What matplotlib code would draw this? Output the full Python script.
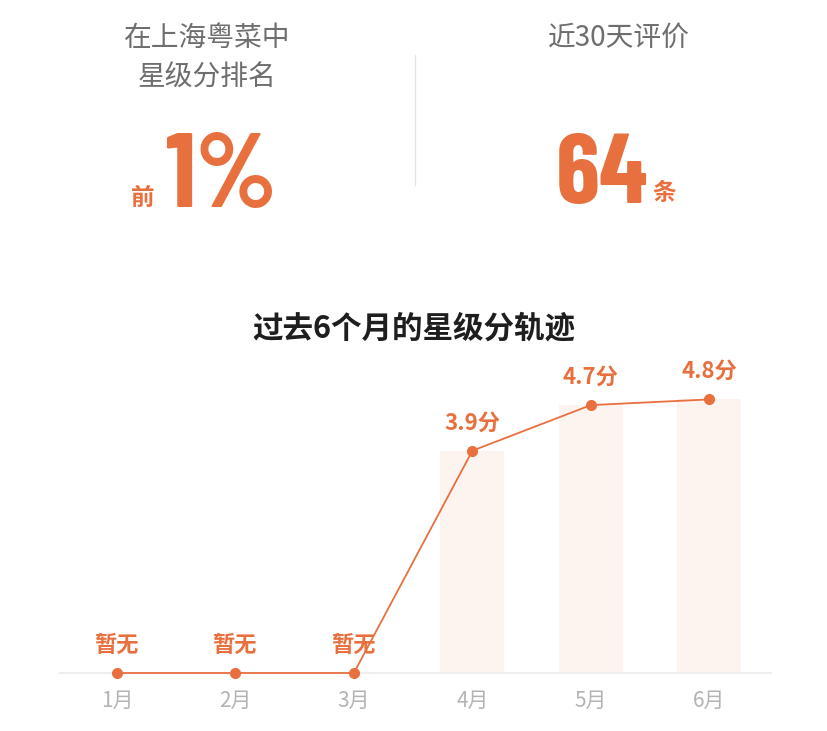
import numpy as np
import matplotlib.pyplot as plt
from matplotlib.lines import Line2D

plt.rcParams['font.family'] = ['Noto Sans CJK SC', 'DejaVu Sans']

months = ["1月", "2月", "3月", "4月", "5月", "6月"]
scores = [0, 0, 0, 3.9, 4.7, 4.8]
labels = ["暂无", "暂无", "暂无", "3.9分", "4.7分", "4.8分"]
has_score = [False, False, False, True, True, True]

rank_pct = "1%"
review_count = "64"

orange = "#E8703F"
bar_color = "#FDF3EF"
grey_text = "#6E6E6E"
tick_grey = "#B3B3B3"
big_font = ['Barlow Condensed', 'DejaVu Sans']

W, H = 828, 731
fig = plt.figure(figsize=(W / 100, H / 100), dpi=100)

# top summary block
fig.text(207 / W, 1 - 38 / H, "在上海粤菜中", ha='center', va='center', fontsize=20, color=grey_text)
fig.text(207 / W, 1 - 78 / H, "星级分排名", ha='center', va='center', fontsize=20, color=grey_text)
fig.text(619 / W, 1 - 38 / H, "近30天评价", ha='center', va='center', fontsize=20, color=grey_text)

fig.text(131 / W, 1 - 205 / H, "前", ha='left', va='baseline', fontsize=17,
         fontweight='bold', color=orange)
fig.text(166 / W, 1 - 207 / H, rank_pct, ha='left', va='baseline', fontsize=76,
         fontweight='bold', color=orange, family=big_font)
fig.text(556 / W, 1 - 203 / H, review_count, ha='left', va='baseline', fontsize=72,
         fontweight='bold', color=orange, family=big_font)
fig.text(652 / W, 1 - 200 / H, "条", ha='left', va='baseline', fontsize=17,
         fontweight='bold', color=orange)

fig.add_artist(Line2D([415 / W, 415 / W], [1 - 55 / H, 1 - 185 / H],
                      transform=fig.transFigure, color="#E6E6E6", lw=1))

fig.text(414 / W, 1 - 328 / H, "过去6个月的星级分轨迹", ha='center', va='center',
         fontsize=22, fontweight='bold', color="#1E1E1E")

# chart
ax = fig.add_axes([60 / W, 1 - 673 / H, 711 / W, 313.5 / H])
x = np.arange(len(months))
ax.set_xlim(-0.48, 5.52)
ax.set_ylim(0, 5.5)

bar_vals = [s if ok else 0 for s, ok in zip(scores, has_score)]
ax.bar(x, bar_vals, width=0.54, color=bar_color, zorder=1)
ax.plot(x, scores, color=orange, lw=1.3, marker='o', ms=7, zorder=3, clip_on=False)

for xi, s, lab in zip(x, scores, labels):
    ax.annotate(lab, (xi, s), xytext=(0, 20), textcoords='offset points',
                ha='center', va='center', fontsize=16, fontweight='bold', color=orange)

for side in ['top', 'right', 'left']:
    ax.spines[side].set_visible(False)
ax.spines['bottom'].set_color("#EEEEEE")
ax.spines['bottom'].set_linewidth(1.5)
ax.set_yticks([])
ax.set_xticks(x)
ax.set_xticklabels(months, fontsize=15, color=tick_grey)
ax.tick_params(axis='x', length=0, pad=12)

fig.savefig("out.png", dpi=100)
